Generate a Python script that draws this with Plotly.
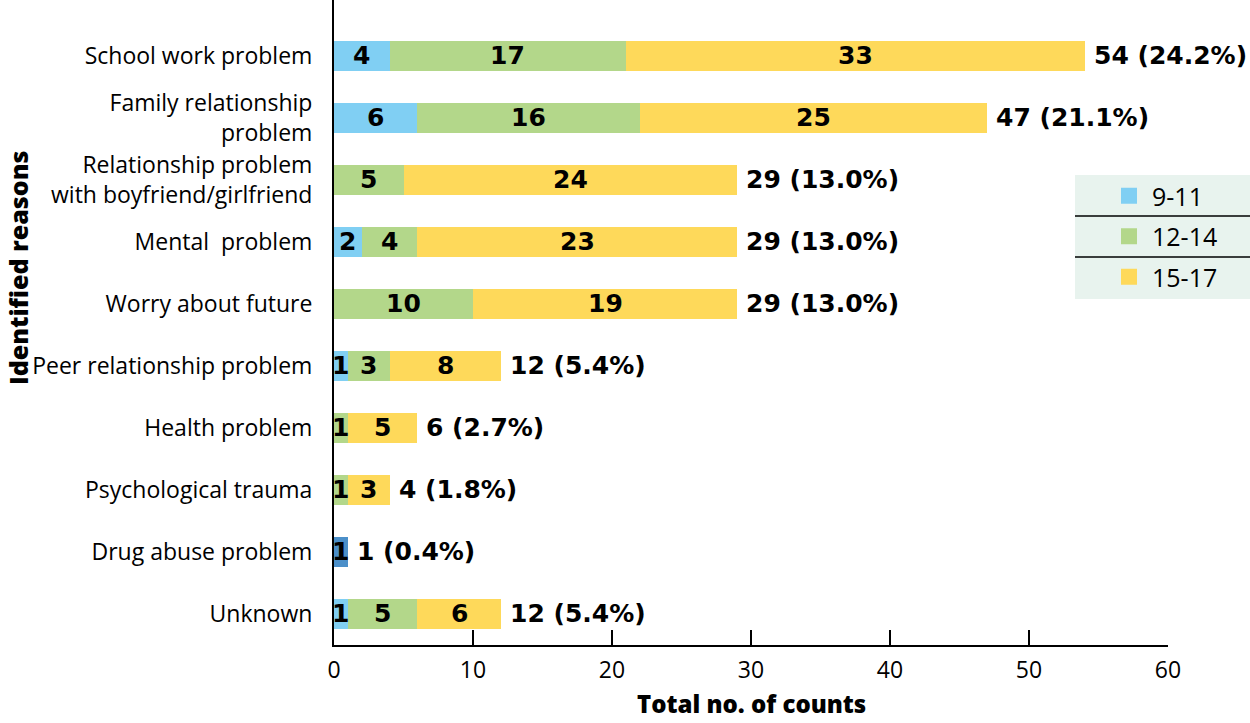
import plotly.graph_objects as go

categories = [
    "School work problem",
    "Family relationship<br>problem",
    "Relationship problem<br>with boyfriend/girlfriend",
    "Mental\u00a0 problem",
    "Worry about future",
    "Peer relationship problem",
    "Health problem",
    "Psychological trauma",
    "Drug abuse problem",
    "Unknown",
]
age_9_11 = [4, 6, 0, 2, 0, 1, 0, 0, 1, 1]
age_12_14 = [17, 16, 5, 4, 10, 3, 1, 1, 0, 5]
age_15_17 = [33, 25, 24, 23, 19, 8, 5, 3, 0, 6]
series_names = ["9-11", "12-14", "15-17"]
x_ticks = [0, 10, 20, 30, 40, 50, 60]

colors = ["#80cff3", "#b3d78a", "#fed95a"]
blue_per_bar = ["#80cff3"] * 8 + ["#4b8fc9", "#80cff3"]

series = [age_9_11, age_12_14, age_15_17]
totals = [sum(v) for v in zip(*series)]
grand = sum(totals)

FONT = "Open Sans"
BOLD = "DejaVu Sans"
fig = go.Figure()
for i, (name, vals) in enumerate(zip(series_names, series)):
    col = blue_per_bar if i == 0 else colors[i]
    fig.add_trace(go.Bar(
        y=categories, x=vals, orientation="h", name=name,
        marker=dict(color=col, line=dict(width=0)),
        width=0.48, showlegend=False, hoverinfo="x+name",
    ))
# legend entries
for name, c in zip(series_names, colors):
    fig.add_trace(go.Scatter(
        x=[None], y=[None], mode="markers", name=name,
        marker=dict(symbol="square", size=16, color=c),
        legendgroup=name,
    ))

annotations = []
for ci, cat in enumerate(categories):
    start = 0
    for vals in series:
        v = vals[ci]
        if v > 0:
            annotations.append(dict(
                x=start + v / 2, y=cat, xref="x", yref="y", text=str(v),
                showarrow=False, font=dict(family=BOLD, size=25, color="black", weight="bold"),
            ))
        start += v
    t = totals[ci]
    annotations.append(dict(
        x=t, y=cat, xref="x", yref="y", text=f"{t} ({t / grand * 100:.1f}%)",
        xanchor="left", xshift=7, showarrow=False,
        font=dict(family=BOLD, size=25, color="black", weight="bold"),
    ))

W, H = 1250, 723
PL, PR, PT, PB = 334, 1168, 0, 645  # plot area in page pixels
L, R, T, B = PL, W - PR, PT, H - PB
pw, ph = PR - PL, PB - PT
px = lambda p: (p - PL) / pw
py = lambda p: (PB - p) / ph

annotations.append(dict(
    x=px(18), y=py(268), xref="paper", yref="paper", text="Identified reasons",
    textangle=-90, showarrow=False, xanchor="center", yanchor="middle",
    font=dict(family=FONT, size=25, color="black", weight=800),
))
annotations.append(dict(
    x=px(751), y=py(722), xref="paper", yref="paper", text="Total no. of counts",
    showarrow=False, xanchor="center", yanchor="bottom",
    font=dict(family=FONT, size=24, color="black", weight=800),
))

shapes = [
    dict(type="rect", xref="paper", yref="paper", x0=px(1075), x1=px(1250),
         y0=py(299), y1=py(175), fillcolor="#e8f3ee", line=dict(width=0), layer="below"),
    dict(type="line", xref="paper", yref="paper", x0=px(1075), x1=px(1250),
         y0=py(216), y1=py(216), line=dict(color="black", width=1.5)),
    dict(type="line", xref="paper", yref="paper", x0=px(1075), x1=px(1250),
         y0=py(257), y1=py(257), line=dict(color="black", width=1.5)),
]

fig.update_layout(
    width=W, height=H, barmode="stack",
    margin=dict(l=L, r=R, t=T, b=B, pad=0, autoexpand=False),
    plot_bgcolor="white", paper_bgcolor="white",
    font=dict(family=FONT, color="black"),
    annotations=annotations, shapes=shapes,
    legend=dict(
        x=px(1106), y=py(173), xanchor="left", yanchor="top",
        bgcolor="rgba(0,0,0,0)", font=dict(family=FONT, size=25, color="black"),
        traceorder="grouped", tracegroupgap=5, itemwidth=36,
    ),
    xaxis=dict(
        range=[0, 60], tickvals=x_ticks, ticks="inside", ticklen=15, tickwidth=2,
        tickcolor="black", showline=True, linecolor="black", linewidth=2,
        showgrid=False, zeroline=False, tickfont=dict(family=FONT, size=23),
        ticklabelstandoff=3,
    ),
    yaxis=dict(
        type="category", range=[9.5, -0.9], showline=True, linecolor="black",
        linewidth=2, showgrid=False, zeroline=False, ticks="",
        tickfont=dict(family=FONT, size=23), ticklabelstandoff=15,
    ),
)

fig.write_html("out.html", config={"displayModeBar": False},
               post_script="document.body.style.margin='0';")
